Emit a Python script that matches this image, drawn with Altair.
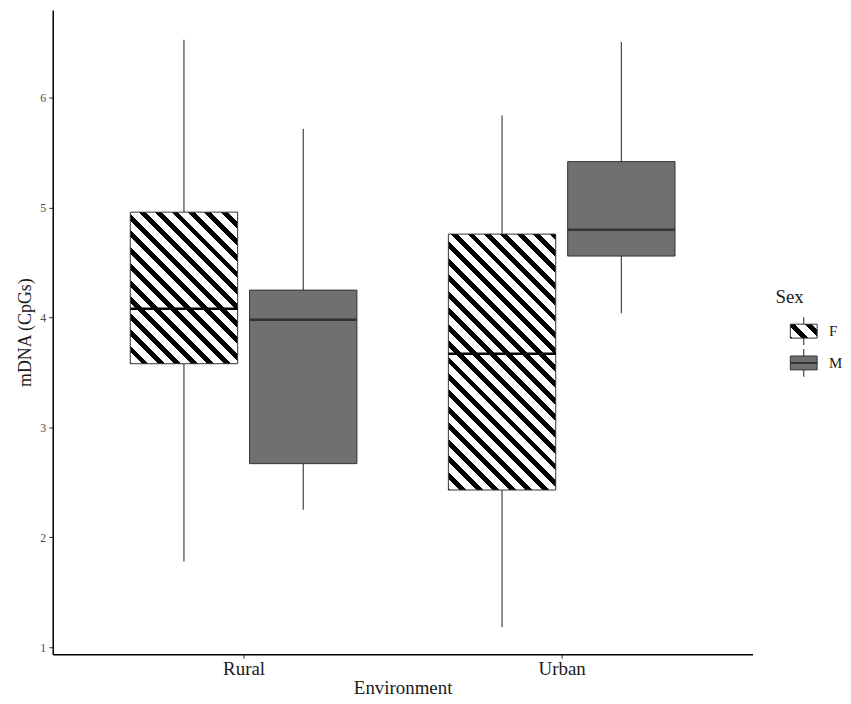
import altair as alt
import pandas as pd

# ---- data ----
env = ["Rural", "Rural", "Urban", "Urban"]
sex = ["F", "M", "F", "M"]
whisker_low = [1.78, 2.25, 1.18, 4.04]
q1 = [3.58, 2.67, 2.43, 4.56]
median = [4.08, 3.98, 3.67, 4.80]
q3 = [4.96, 4.25, 4.76, 5.42]
whisker_high = [6.53, 5.72, 5.84, 6.51]

env_levels = ["Rural", "Urban"]
sex_levels = ["F", "M"]
y_ticks = [1, 2, 3, 4, 5, 6]

# ---- layout / style ----
W, H = 704, 648
Y_DOM = [0.935, 6.80]
X_DOM = [0.4, 2.6]
DODGE = 0.375
BOXW = 0.3375
FONT = "Liberation Serif"
M_FILL = "#707070"
EDGE = "#333333"
STRIPE_PERIOD = 11.7
STRIPE_FRAC = 0.42

df = pd.DataFrame({
    "env": env, "sex": sex, "lo": whisker_low, "q1": q1,
    "med": median, "q3": q3, "hi": whisker_high,
})
df["pos"] = [env_levels.index(e) + 1 + (sex_levels.index(s) - 0.5) * DODGE
             for e, s in zip(df["env"], df["sex"])]
df["xl"] = df["pos"] - BOXW / 2
df["xr"] = df["pos"] + BOXW / 2


def stripes(w, h, period=STRIPE_PERIOD, frac=STRIPE_FRAC):
    """Diagonal (\\) hard-stop gradient for a w x h pixel box."""
    k = w * (w + h) / (w * w + h * h)
    span = (w + h) / 2 ** 0.5
    d = period / span
    stops = []
    t = -d * 0.3
    while t < 1:
        a, b, c = t, t + frac * d, t + d
        for off, col in [(a, "black"), (b, "black"), (b, "white"), (c, "white")]:
            o = min(max(off, 0.0), 1.0)
            stops.append(alt.GradientStop(color=col, offset=o))
        t = c
    return alt.LinearGradient(gradient="linear", stops=stops,
                              x1=0, y1=1, x2=k, y2=1 - k * h / w)


xscale = alt.Scale(domain=X_DOM, nice=False, zero=False)
yscale = alt.Scale(domain=Y_DOM, nice=False, zero=False)
label_expr = "[" + ",".join(f"'{e}'" for e in env_levels) + "][datum.value - 1]"

x_axis = alt.Axis(values=[1, 2], labelExpr=label_expr, title="Environment",
                  grid=False, domainColor="black", domainWidth=1.5,
                  tickColor=EDGE, tickSize=4, labelColor="#1a1a1a",
                  labelFont=FONT, titleFont=FONT,
                  labelFontSize=19, titleFontSize=19, titleFontWeight="normal",
                  titleColor="#1a1a1a", labelPadding=1, titlePadding=1)
y_axis = alt.Axis(values=y_ticks, title="mDNA (CpGs)", grid=False,
                  domainColor="black", domainWidth=1.5, tickColor=EDGE,
                  labelFont=FONT, titleFont=FONT,
                  tickSize=4, labelColor="#4d4d4d", labelFontSize=12,
                  titleFontSize=18, titleFontWeight="normal", titleColor="#1a1a1a",
                  labelPadding=3, titlePadding=5)

base = alt.Chart(df)

whiskers = base.mark_rule(color=EDGE, strokeWidth=1.1).encode(
    x=alt.X("pos:Q", scale=xscale, axis=x_axis),
    y=alt.Y("lo:Q", scale=yscale, axis=y_axis),
    y2="hi:Q",
)

px_per_x = W / (X_DOM[1] - X_DOM[0])
px_per_y = H / (Y_DOM[1] - Y_DOM[0])

box_layers = []
for e, s, a, b in zip(env, sex, q1, q3):
    if s == "F":
        fill = stripes(BOXW * px_per_x, (b - a) * px_per_y)
    else:
        fill = M_FILL
    layer = base.transform_filter(
        (alt.datum.env == e) & (alt.datum.sex == s)
    ).mark_rect(fill=fill, stroke=EDGE, strokeWidth=1).encode(
        x=alt.X("xl:Q", scale=xscale, axis=x_axis),
        x2="xr:Q",
        y=alt.Y("q1:Q", scale=yscale, axis=y_axis),
        y2="q3:Q",
    )
    box_layers.append(layer)

medians = base.mark_rule(strokeWidth=2.6).encode(
    x=alt.X("xl:Q", scale=xscale, axis=x_axis),
    x2="xr:Q",
    y=alt.Y("med:Q", scale=yscale, axis=y_axis),
    stroke=alt.Stroke("sex:N", scale=alt.Scale(domain=sex_levels, range=["black", EDGE]),
                      legend=None),
)

main = alt.layer(whiskers, *box_layers, medians).properties(width=W, height=H)

# ---- hand-built legend (pattern keys) ----
LW = 66
leg_center = {"F": 323, "M": 355}
leg = pd.DataFrame({"sex": sex_levels})
leg["yc"] = [leg_center[s] for s in sex_levels]
leg["bt"] = leg["yc"] - 7
leg["bb"] = leg["yc"] + 7
leg["wt"] = leg["yc"] - 14
leg["wb"] = leg["yc"] + 14
leg["bx1"] = 16
leg["bx2"] = 43
leg["cx"] = 29.5
leg["lx"] = 55

lx = alt.Scale(domain=[0, LW], range=[0, LW], nice=False, zero=False)
ly = alt.Scale(domain=[0, H], range=[0, H], nice=False, zero=False)
lbase = alt.Chart(leg)

leg_wh = lbase.mark_rule(color=EDGE, strokeWidth=1.1).encode(
    x=alt.X("cx:Q", scale=lx, axis=None),
    y=alt.Y("wt:Q", scale=ly, axis=None), y2="wb:Q")
leg_boxes = []
for s in sex_levels:
    fill = stripes(27, 14) if s == "F" else M_FILL
    leg_boxes.append(lbase.transform_filter(alt.datum.sex == s).mark_rect(
        fill=fill, stroke=EDGE, strokeWidth=1).encode(
        x=alt.X("bx1:Q", scale=lx, axis=None), x2="bx2:Q",
        y=alt.Y("bt:Q", scale=ly, axis=None), y2="bb:Q"))
leg_med = lbase.transform_filter(alt.datum.sex == "M").mark_rule(
    color=EDGE, strokeWidth=2).encode(
    x=alt.X("bx1:Q", scale=lx, axis=None), x2="bx2:Q",
    y=alt.Y("yc:Q", scale=ly, axis=None))
leg_lab = lbase.mark_text(align="left", baseline="middle", fontSize=15,
                          color="#1a1a1a", font=FONT).encode(
    x=alt.X("lx:Q", scale=lx, axis=None),
    y=alt.Y("yc:Q", scale=ly, axis=None), text="sex:N")
leg_title = lbase.transform_filter(alt.datum.sex == "F").mark_text(
    align="left", baseline="middle", fontSize=19, color="#1a1a1a", font=FONT,
    dy=-34).encode(
    x=alt.value(1),
    y=alt.Y("yc:Q", scale=ly, axis=None), text=alt.value("Sex"))

legend = alt.layer(leg_wh, *leg_boxes, leg_med, leg_lab, leg_title).properties(
    width=LW, height=H)

chart = alt.hconcat(main, legend, spacing=22).properties(
    padding={"left": 9, "top": 0, "right": 0, "bottom": 0}
).configure(font=FONT).configure_view(stroke=None)

chart.save("out.html", embed_options={"renderer": "svg", "actions": False})
